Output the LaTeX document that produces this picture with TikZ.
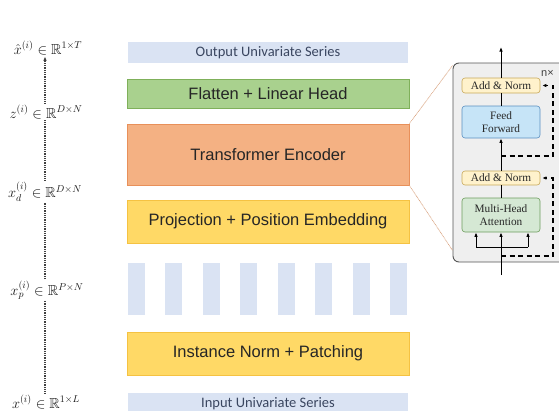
\documentclass[tikz,border=0pt]{standalone}
\usepackage{amssymb}
\usepackage[no-math]{fontspec}
\newfontfamily\arialf{Liberation Sans}
\newfontfamily\calf{Carlito}
\newfontfamily\timesf{Liberation Serif}
\usetikzlibrary{arrows.meta,calc}
\definecolor{serblue}{HTML}{DAE3F3}
\definecolor{sertext}{HTML}{3A4660}
\definecolor{gfill}{HTML}{A9D18E}
\definecolor{gdraw}{HTML}{7FB05A}
\definecolor{ofill}{HTML}{F4B183}
\definecolor{odraw}{HTML}{E8905A}
\definecolor{yfill}{HTML}{FFD966}
\definecolor{ydraw}{HTML}{F5C242}
\definecolor{panfill}{HTML}{EFEFEF}
\definecolor{pandraw}{HTML}{555555}
\definecolor{anfill}{HTML}{FFF2CC}
\definecolor{andraw}{HTML}{C9A95A}
\definecolor{fffill}{HTML}{C6E4F7}
\definecolor{ffdraw}{HTML}{5B8FC0}
\definecolor{mhfill}{HTML}{D5E8D4}
\definecolor{mhdraw}{HTML}{6E9E5E}
\definecolor{zoomc}{HTML}{D9A27E}
\begin{document}
\begin{tikzpicture}[x=1pt,y=-1pt,
  series/.style={fill=serblue, minimum width=280pt, minimum height=21pt, inner sep=0pt,
    font=\calf\fontsize{14.5}{16}\selectfont, text=sertext},
  block/.style={minimum width=282pt, inner sep=0pt, line width=0.8pt,
    font=\arialf\fontsize{16.5}{19}\selectfont, text=black!85},
  patch/.style={fill=serblue, minimum width=17pt, minimum height=52pt, inner sep=0pt},
  pbox/.style={rounded corners=3pt, minimum width=78pt, inner sep=0pt, line width=0.6pt,
    font=\timesf\fontsize{11.3}{12.5}\selectfont, align=center, text=black!85},
  mlabel/.style={font=\fontsize{14.5}{16}\selectfont, inner sep=1.5pt, text=black!90},
  dots/.style={line width=1.3pt, dash pattern=on 1pt off 0.8pt, black!75},
  tip/.style={-{Latex[length=4.5pt,width=3.5pt]}},
  res/.style={line width=1.1pt, dash pattern=on 5pt off 3.5pt, -{Latex[length=4pt,width=3.5pt]}, shorten >=2pt},
  zline/.style={zoomc, line width=0.6pt, dash pattern=on 1pt off 0.6pt}
]
\useasboundingbox (0,0) rectangle (559,410);
\fill[white] (0,0) rectangle (559,410);

% left column blocks
\node[series] (out) at (268,52.5) {Output Univariate Series};
\node[block, fill=gfill, draw=gdraw, minimum height=29pt] (flat) at (268,93.5) {Flatten + Linear Head};
\node[block, fill=ofill, draw=odraw, minimum height=61pt] (te) at (268,154.5) {Transformer Encoder};
\node[block, fill=yfill, draw=ydraw, minimum height=43pt] (proj) at (268,221.5) {Projection + Position Embedding};
\foreach \i in {0,...,7} \node[patch] (p\i) at ({136.5+37.43*\i},289) {};
\node[block, fill=yfill, draw=ydraw, minimum height=43pt] (inorm) at (268,353.5) {Instance Norm + Patching};
\node[series] (in) at (268,403.5) {Input Univariate Series};

% left labels
\coordinate (ax) at (45,0);
\node[mlabel] (xhl) at (48,48) {$\hat{x}^{(i)} \in \mathbb{R}^{1\times T}$};
\node[mlabel] (zl) at (46,112) {$z^{(i)} \in \mathbb{R}^{D\times N}$};
\node[mlabel] (xdl) at (45,192) {$x_d^{(i)} \in \mathbb{R}^{D\times N}$};
\node[mlabel] (xpl) at (47,290) {$x_p^{(i)} \in \mathbb{R}^{P\times N}$};
\node[mlabel] (xl) at (46,402) {$x^{(i)} \in \mathbb{R}^{1\times L}$};
\draw[dots] (xl.north -| ax) -- (xpl.south -| ax);
\draw[dots] (xpl.north -| ax) -- (xdl.south -| ax);
\draw[dots] (xdl.north -| ax) -- (zl.south -| ax);
\draw[dots, tip] (zl.north -| ax) -- (xhl.south -| ax);

% detail panel
\node[draw=pandraw, fill=panfill, line width=0.9pt, rounded corners=6pt,
  minimum width=122pt, minimum height=199pt, inner sep=0pt] (panel) at (514,162.5) {};
\node[anchor=west, font=\arialf\fontsize{11}{12}\selectfont, text=black!75, inner sep=0pt] (nx) at (541,73) {n×};
\draw[zline] (te.north east) -- ($(panel.north west)+(0,3)$);
\draw[zline] (te.south east) -- ($(panel.south west)+(0,-12)$);

\node[pbox, fill=anfill, draw=andraw, minimum height=15pt] (an1) at (501,85.5) {Add \& Norm};
\node[pbox, fill=fffill, draw=ffdraw, minimum height=32pt] (ff) at (501,122) {Feed\\Forward};
\node[pbox, fill=anfill, draw=andraw, minimum height=14pt] (an2) at (501,178) {Add \& Norm};
\node[pbox, fill=mhfill, draw=mhdraw, minimum height=34pt] (mha) at (501,215) {Multi-Head\\Attention};

\coordinate (bot) at (501,275);
\coordinate (split) at (501,247);
\coordinate (sl) at (476,247);
\coordinate (sr) at (528,247);
\coordinate (topc) at (501,47);
\coordinate (r1) at (501,256);
\coordinate (r1c) at (553,256);
\coordinate (r2) at (501,156);
\coordinate (r2c) at (553,156);

\draw[line width=0.9pt] (bot) -- (split);
\draw[line width=0.9pt] (sl) -- (sr);
\draw[line width=0.9pt, tip] (split) -- (mha.south);
\draw[line width=0.9pt, tip] (sl) -- (sl |- mha.south);
\draw[line width=0.9pt, tip] (sr) -- (sr |- mha.south);
\draw[line width=0.9pt] (mha.north) -- (an2.south);
\draw[line width=0.9pt, tip] (an2.north) -- (ff.south);
\draw[line width=0.9pt] (ff.north) -- (an1.south);
\draw[line width=0.9pt, tip] (an1.north) -- (topc);

\draw[res] (r1) -- (r1c) -- (r1c |- an2.east) -- (an2.east);
\draw[res] (r2) -- (r2c) -- (r2c |- an1.east) -- (an1.east);
\end{tikzpicture}
\end{document}
